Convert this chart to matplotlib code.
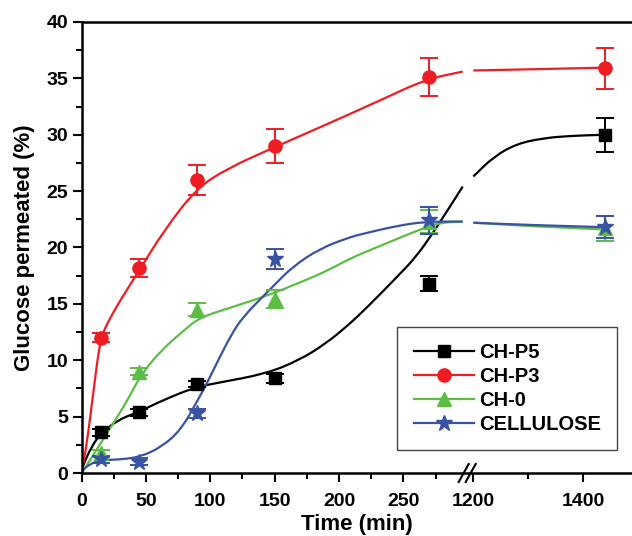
import numpy as np
import matplotlib
matplotlib.use("Agg")
import matplotlib.pyplot as plt
from matplotlib.path import Path
from matplotlib.patches import PathPatch
from matplotlib.lines import Line2D

plt.rcParams['font.family'] = ['Liberation Sans', 'DejaVu Sans']
plt.rcParams['font.weight'] = 'bold'

# measured points
time_pts = [15, 45, 90, 150, 270, 1440]
p5_y = [3.6, 5.4, 7.9, 8.4, 16.8, 30.0]
p5_err = [0.3, 0.3, 0.3, 0.4, 0.7, 1.5]
p3_y = [12.0, 18.2, 26.0, 29.0, 35.1, 35.9]
p3_err = [0.4, 0.8, 1.3, 1.5, 1.7, 1.8]
ch0_y = [1.75, 9.0, 14.5, 15.4, 22.3, 21.7]
ch0_err = [0.3, 0.3, 0.6, 0.8, 1.0, 1.1]
cell_y = [1.2, 1.0, 5.3, 19.0, 22.4, 21.8]
cell_err = [0.3, 0.3, 0.4, 0.9, 1.2, 1.0]

# fitted curves, left part up to the break, right part after it
p5_fit_x = [0, 1, 7.5, 15, 28, 44, 64, 88, 106, 143, 169, 190, 208, 221, 246, 260, 273, 286, 296]
p5_fit_y = [0.2, 0.6, 2.3, 3.5, 4.7, 5.4, 6.5, 7.6, 8.0, 8.8, 10.0, 11.5, 13.2, 14.6, 17.5, 19.2, 21.3, 23.6, 25.4]
p5_fit2_x = [1200, 1237, 1279, 1328, 1376, 1440]
p5_fit2_y = [26.3, 28.05, 29.2, 29.7, 29.9, 30.0]
p3_fit_x = [0, 4, 9, 13, 16, 22, 30, 45, 64, 89, 113, 150, 192, 231, 267, 296]
p3_fit_y = [0, 2.5, 7.0, 10.6, 12.3, 13.7, 15.3, 18.0, 21.5, 25.2, 27.0, 28.9, 31.0, 33.0, 34.9, 35.6]
p3_fit2_x = [1200, 1300, 1440]
p3_fit2_y = [35.7, 35.8, 35.95]
ch0_fit_x = [0, 2, 13, 23, 36, 46, 62, 80, 92, 118, 146, 174, 192, 208, 231, 265, 278, 296]
ch0_fit_y = [0, 0.3, 2.3, 4.1, 6.5, 8.7, 10.9, 12.7, 13.8, 14.75, 15.8, 17.1, 18.0, 19.0, 20.1, 21.7, 22.2, 22.3]
ch0_fit2_x = [1200, 1300, 1440]
ch0_fit2_y = [22.2, 21.9, 21.6]
cell_fit_x = [0, 7.5, 15, 31, 46, 62, 77, 90, 98, 107, 116, 125, 143, 150, 164, 185, 208, 218, 244, 267, 296]
cell_fit_y = [0.2, 0.86, 1.15, 1.2, 1.45, 2.3, 3.8, 6.4, 8.1, 10.2, 12.2, 13.8, 15.9, 16.7, 18.3, 19.9, 20.9,
              21.2, 21.9, 22.3, 22.3]
cell_fit2_x = [1200, 1300, 1440]
cell_fit2_y = [22.2, 22.0, 21.8]

labels = ['CH-P5', 'CH-P3', 'CH-0', 'CELLULOSE']
colors = ['black', '#ee1d23', '#5cbd45', '#3852a4']
markers = ['s', 'o', '^', '*']
msizes = [8.5, 9.5, 10, 12]

# broken time axis: 0-300, then 1192 onwards compressed
B1, B2, R = 300.0, 1192.0, 0.55 / 1.29
EPS = 1e-3


def fwd(x):
    x = np.asarray(x, dtype=float)
    return np.where(x <= B1, x,
                    np.where(x < B2, B1 + (x - B1) * EPS,
                             B1 + (B2 - B1) * EPS + (x - B2) * R))


def inv(v):
    v = np.asarray(v, dtype=float)
    mid = B1 + (B2 - B1) * EPS
    return np.where(v <= B1, v,
                    np.where(v < mid, B1 + (v - B1) / EPS, B2 + (v - mid) / R))


def smooth_path(xs, ys):
    # quadratic bezier through the midpoints, read points act as controls
    pts = np.column_stack([xs, ys]).astype(float)
    if len(pts) < 3:
        return Path(pts)
    verts = [pts[0], (pts[0] + pts[1]) / 2]
    codes = [Path.MOVETO, Path.LINETO]
    for i in range(1, len(pts) - 1):
        verts += [pts[i], (pts[i] + pts[i + 1]) / 2]
        codes += [Path.CURVE3, Path.CURVE3]
    verts.append(pts[-1])
    codes.append(Path.LINETO)
    return Path(verts, codes)


fig = plt.figure(figsize=(6.32, 5.36), dpi=100)
ax = fig.add_axes([0.129, 0.1175, 0.871, 0.8415])
ax.set_xscale('function', functions=(fwd, inv))

series = [(p5_y, p5_err, (p5_fit_x, p5_fit_y), (p5_fit2_x, p5_fit2_y)),
          (p3_y, p3_err, (p3_fit_x, p3_fit_y), (p3_fit2_x, p3_fit2_y)),
          (ch0_y, ch0_err, (ch0_fit_x, ch0_fit_y), (ch0_fit2_x, ch0_fit2_y)),
          (cell_y, cell_err, (cell_fit_x, cell_fit_y), (cell_fit2_x, cell_fit2_y))]

for (ys, errs, fit1, fit2), lab, c, m, ms in zip(series, labels, colors, markers, msizes):
    for fx, fy in (fit1, fit2):
        ax.add_patch(PathPatch(smooth_path(fx, fy), fill=False, edgecolor=c, lw=1.6, zorder=2))
    ax.errorbar(time_pts, ys, yerr=errs, fmt=m, color=c, ms=ms, capsize=6.5,
                elinewidth=1.4, capthick=1.4, zorder=3)
    ax.plot([], [], color=c, marker=m, ms=ms, lw=1.6, label=lab)

ax.set_xlim(0, 1489)
ax.set_ylim(0, 40)
ax.set_xticks([0, 50, 100, 150, 200, 250, 1200, 1400])
ax.set_xticks([25, 75, 125, 175, 225, 275, 1300], minor=True)
ax.set_yticks(np.arange(0, 41, 5))
ax.set_yticks(np.arange(2.5, 40, 5), minor=True)
ax.tick_params(axis='both', which='major', direction='out', length=6.5, width=1.5, labelsize=14)
ax.tick_params(axis='both', which='minor', direction='out', length=4, width=1.5)
ax.tick_params(axis='x', which='major', pad=8)
ax.tick_params(axis='y', which='major', pad=3)

for s in ['left', 'bottom', 'top']:
    ax.spines[s].set_linewidth(1.8)
ax.spines['right'].set_visible(False)

# "//" break mark on the time axis
cx, cy = ax.transData.transform((float(inv(299.5)), 0.0))
for off in (-3.5, 3.5):
    fig.add_artist(Line2D([cx + off - 5, cx + off + 5], [cy - 9, cy + 9], transform=None,
                          color='black', lw=1.5))

ax.set_xlabel('Time (min)', fontsize=16, fontweight='bold', labelpad=2.5)
ax.set_ylabel('Glucose permeated (%)', fontsize=16, fontweight='bold', labelpad=8)

leg = ax.legend(loc='lower right', bbox_to_anchor=(0.973, 0.051), borderaxespad=0,
                fontsize=14.5, handlelength=3.0, labelspacing=0.25, fancybox=False,
                framealpha=1, edgecolor='#444444', borderpad=0.8, handletextpad=0.25)
leg.get_frame().set_linewidth(1.0)

fig.savefig('out.png', dpi=100)
